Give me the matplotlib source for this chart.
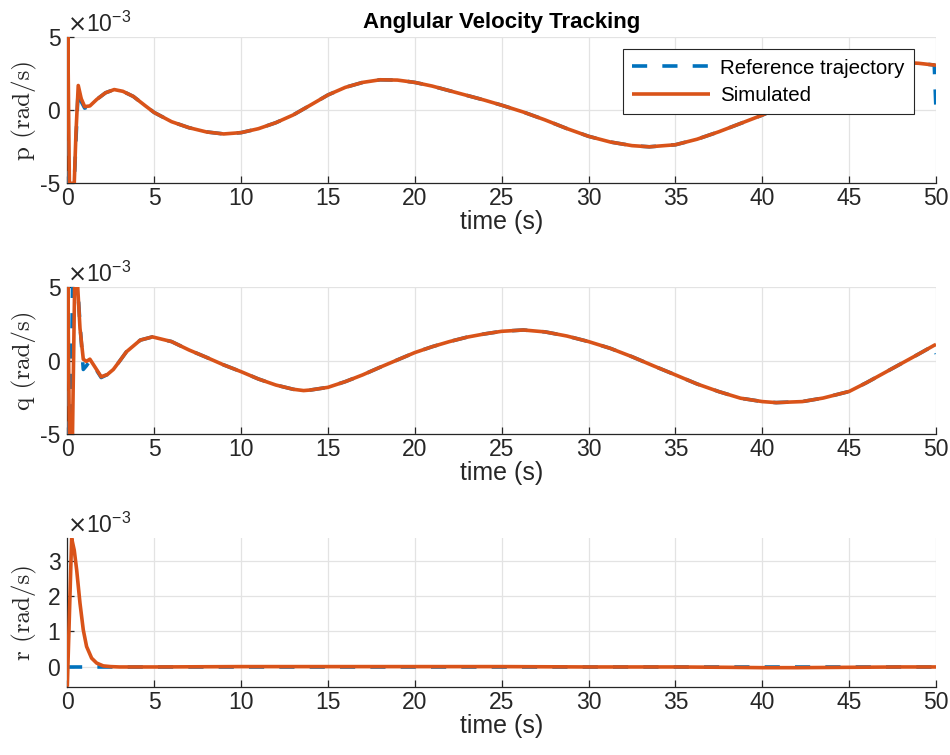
import matplotlib
matplotlib.use("Agg")
import matplotlib.pyplot as plt
from matplotlib.ticker import FuncFormatter

plt.rcParams['font.family'] = ['Liberation Sans', 'DejaVu Sans']

SCALE = 1e-3  # values below are in units of 1e-3 rad/s

# ---- p ----
t_p = [0, 0.03, 0.12, 0.4, 0.5, 0.63, 0.8, 1.0, 1.3, 1.7, 2.2, 2.7, 3.2, 3.8, 4.5, 5,
       6, 7, 8, 9, 10, 11, 12, 13, 14, 15, 16, 17, 18, 19, 20, 21, 22, 23, 24, 25,
       26.25, 27.5, 28.75, 30, 31.25, 32.5, 33.5, 35, 36.25, 37.5, 38.75, 40,
       41, 42, 43, 44, 45, 46, 47, 48, 49, 49.9, 50]
p_sim = [0, 5, -5, -5, -1.5, 1.7, 0.8, 0.25, 0.3, 0.75, 1.2, 1.42, 1.3, 0.95, 0.3, -0.15,
         -0.78, -1.19, -1.48, -1.62, -1.53, -1.26, -0.85, -0.32, 0.36, 1.05, 1.57, 1.91, 2.09, 2.07, 1.91, 1.66, 1.34, 1.02, 0.7, 0.35,
         -0.12, -0.66, -1.25, -1.78, -2.17, -2.42, -2.5, -2.36, -1.98, -1.47, -0.9, -0.33,
         0.2, 0.8, 1.4, 1.95, 2.45, 2.85, 3.15, 3.28, 3.22, 3.1, 3.08]
p_ref = [0, -5, -5, -5, -2.0, 1.5, 0.6, 0.15, 0.3, 0.75, 1.2, 1.42, 1.3, 0.95, 0.3, -0.15,
         -0.78, -1.19, -1.48, -1.62, -1.53, -1.26, -0.85, -0.32, 0.36, 1.05, 1.57, 1.91, 2.09, 2.07, 1.91, 1.66, 1.34, 1.02, 0.7, 0.35,
         -0.12, -0.66, -1.25, -1.78, -2.17, -2.42, -2.5, -2.36, -1.98, -1.47, -0.9, -0.33,
         0.2, 0.8, 1.4, 1.95, 2.45, 2.85, 3.15, 3.28, 3.22, 3.1, 0]

# ---- q ----
t_q = [0, 0.03, 0.12, 0.2, 0.3, 0.42, 0.6, 0.73, 0.92, 1.1, 1.3, 1.6, 1.95, 2.3, 2.65, 3.0, 3.4, 4.2, 4.9,
       6, 7, 8, 9, 10, 11, 12, 13, 13.6, 14, 15, 16, 17, 18, 19, 20, 21, 22, 23, 24, 25,
       26.25, 27.5, 28.75, 30, 31.25, 32.5, 33.75, 35, 36.25, 37.5, 38.75, 40, 40.8, 42.3, 43.5,
       45, 46, 47, 48, 49, 49.9, 50]
q_sim = [0, 5, -5, -5, -5, 5, 5, 2.2, 0.1, -0.05, 0.1, -0.45, -1.1, -0.95, -0.6, -0.05, 0.6, 1.4, 1.62,
         1.3, 0.73, 0.23, -0.29, -0.75, -1.25, -1.66, -1.95, -2.04, -2.0, -1.82, -1.43, -0.97, -0.45, 0.05, 0.55, 0.95, 1.3, 1.6, 1.82, 2.0,
         2.09, 1.96, 1.68, 1.3, 0.84, 0.27, -0.36, -0.97, -1.59, -2.11, -2.56, -2.79, -2.86, -2.79, -2.55,
         -2.1, -1.5, -0.85, -0.2, 0.45, 1.05, 1.1]
q_ref = [0, -5, -5, -5, 5, 5, 5, 2.5, -0.6, -0.35, 0.0, -0.5, -1.15, -0.95, -0.6, -0.05, 0.6, 1.4, 1.62,
         1.3, 0.73, 0.23, -0.29, -0.75, -1.25, -1.66, -1.95, -2.04, -2.0, -1.82, -1.43, -0.97, -0.45, 0.05, 0.55, 0.95, 1.3, 1.6, 1.82, 2.0,
         2.09, 1.96, 1.68, 1.3, 0.84, 0.27, -0.36, -0.97, -1.59, -2.11, -2.56, -2.79, -2.86, -2.79, -2.55,
         -2.1, -1.5, -0.85, -0.2, 0.45, 1.05, 0.45]

# ---- r ----
t_r = [0, 0.25, 0.4, 0.54, 0.73, 0.92, 1.11, 1.4, 1.69, 2.07, 2.5, 3, 5, 10, 15, 20, 25, 30, 35, 38, 40, 42, 45, 48, 50]
r_sim = [-0.57, 3.64, 3.3, 2.74, 1.8, 1.04, 0.57, 0.24, 0.1, 0.02, 0.0, -0.01, -0.01, 0.0, 0.0, 0.0, 0.0,
         -0.01, -0.01, -0.02, -0.03, -0.03, -0.02, -0.01, -0.01]
r_ref = [0] * len(t_r)

x_ticks = [0, 5, 10, 15, 20, 25, 30, 35, 40, 45, 50]
ylabels = ['p (rad/s)', 'q (rad/s)', 'r (rad/s)']
title = 'Anglular Velocity Tracking'

BLUE = '#0072BD'
ORANGE = '#D95319'
FS = 16.5
FSL = 18

fig = plt.figure(figsize=(9.5, 7.55), dpi=100)
W, H = 950.0, 755.0
left, right = 67.3, 936.0
boxes = [(37.3, 183.3), (287.3, 434.0), (538.3, 686.7)]
axes = []
for (top, bot) in boxes:
    ax = fig.add_axes([left / W, 1 - bot / H, (right - left) / W, (bot - top) / H])
    axes.append(ax)

series = [
    (t_p, p_ref, p_sim, (-5, 5), [-5, 0, 5]),
    (t_q, q_ref, q_sim, (-5, 5), [-5, 0, 5]),
    (t_r, r_ref, r_sim, (min(r_sim), max(r_sim)), [0, 1, 2, 3]),
]

for i, (ax, (t, ref, sim, yl, yt)) in enumerate(zip(axes, series)):
    ax.plot(t, [v * SCALE for v in ref], color=BLUE, lw=2.6, ls=(0, (4.2, 4.2)),
            label='Reference trajectory', zorder=3)
    ax.plot(t, [v * SCALE for v in sim], color=ORANGE, lw=2.6, label='Simulated',
            zorder=4, solid_capstyle='butt')
    ax.set_xlim(0, 50)
    ax.set_ylim(yl[0] * SCALE, yl[1] * SCALE)
    ax.set_xticks(x_ticks)
    ax.set_yticks([v * SCALE for v in yt])
    ax.yaxis.set_major_formatter(FuncFormatter(lambda v, _: '%g' % round(v / SCALE, 6)))
    ax.grid(True, color='#e3e3e3', lw=0.9)
    ax.set_axisbelow(True)
    for s in ['top', 'right']:
        ax.spines[s].set_visible(False)
    for s in ['left', 'bottom']:
        ax.spines[s].set_color('#262626')
        ax.spines[s].set_linewidth(0.9)
    ax.tick_params(direction='in', length=5, width=0.9, colors='#262626',
                   labelsize=FS, labelcolor='#262626')
    ax.tick_params(axis='x', pad=3)
    ax.tick_params(axis='y', pad=5)
    ax.set_xlabel('time (s)', fontsize=FSL, color='#262626', labelpad=0)
    ax.set_ylabel(ylabels[i], fontsize=18, family='cmr10', color='#262626')
    ax.yaxis.set_label_coords(-0.035, 0.5)
    ax.text(0.0, 1.005, r'$\times\mathregular{10^{-3}}$', transform=ax.transAxes,
            fontsize=16.5, color='#262626', ha='left', va='bottom')

axes[0].set_title(title, fontsize=16, fontweight='bold', pad=7)
leg = axes[0].legend(loc='upper right', bbox_to_anchor=(0.9747, 0.918), borderaxespad=0,
                     fontsize=14.8, handlelength=3.8, fancybox=False, framealpha=1,
                     edgecolor='#262626', borderpad=0.45, labelspacing=0.4, handletextpad=0.5)
leg.get_frame().set_linewidth(0.8)

fig.savefig('out.png', dpi=100)
